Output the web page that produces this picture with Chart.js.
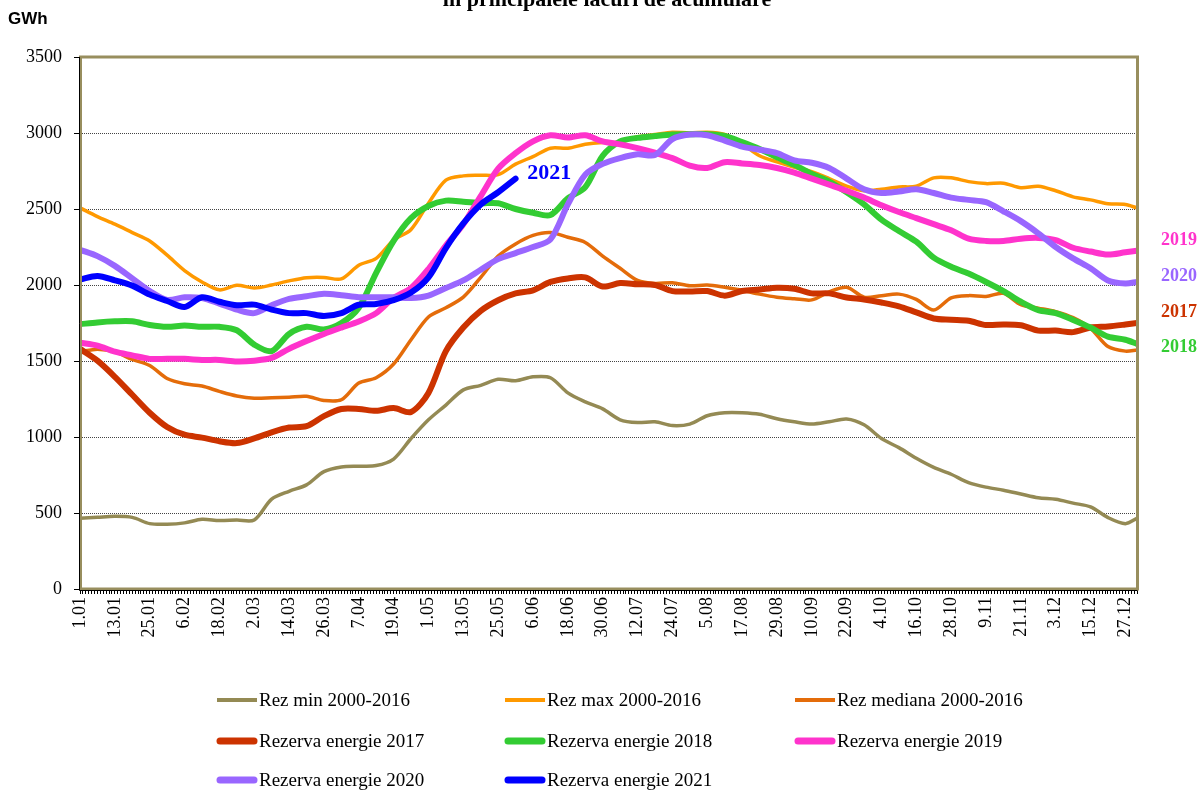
<!DOCTYPE html>
<html>
<head>
<meta charset="utf-8">
<script src="https://cdn.jsdelivr.net/npm/chart.js@4.4.0/dist/chart.umd.min.js"></script>
<style>
  html, body { margin: 0; padding: 0; background: #fff; }
  canvas { display: block; }
</style>
</head>
<body>
<canvas id="chart" width="1202" height="790"></canvas>
<script>
// Sample days (day of year, 0 = 1 January), values read every 6 days
const days = [0, 6, 12, 18, 24, 30, 36, 42, 48, 54, 60, 66, 72, 78, 84, 90, 96, 102, 108, 114,
  120, 126, 132, 138, 144, 150, 156, 162, 168, 174, 180, 186, 192, 198, 204, 210, 216, 222, 228, 234,
  240, 246, 252, 258, 264, 270, 276, 282, 288, 294, 300, 306, 312, 318, 324, 330, 336, 342, 348, 354,
  360, 364];

// Labels under the x axis, one every 12 days
const xTickLabels = ['1.01', '13.01', '25.01', '6.02', '18.02', '2.03', '14.03', '26.03', '7.04', '19.04',
  '1.05', '13.05', '25.05', '6.06', '18.06', '30.06', '12.07', '24.07', '5.08', '17.08', '29.08',
  '10.09', '22.09', '4.10', '16.10', '28.10', '9.11', '21.11', '3.12', '15.12', '27.12'];

const yTicks = [0, 500, 1000, 1500, 2000, 2500, 3000, 3500];

// Series values (GWh)
const rezMin = [466, 472, 478, 471, 430, 426, 435, 459, 450, 454, 454, 591, 643, 685, 772, 803, 808, 812, 855, 990,
  1113, 1210, 1310, 1340, 1380, 1370, 1396, 1390, 1290, 1231, 1185, 1113, 1095, 1100, 1075, 1085, 1140, 1160, 1160, 1150,
  1120, 1100, 1085, 1100, 1118, 1080, 990, 930, 860, 800, 755, 700, 670, 650, 625, 600, 590, 565, 540, 470,
  430, 465];
const rezMax = [2507, 2450, 2400, 2345, 2290, 2196, 2095, 2020, 1968, 1998, 1980, 2000, 2027, 2048, 2050, 2040, 2130, 2175, 2295, 2365,
  2538, 2690, 2718, 2722, 2726, 2795, 2845, 2900, 2900, 2926, 2938, 2940, 2975, 2990, 3005, 3000, 3005, 2990, 2930, 2850,
  2810, 2775, 2745, 2700, 2650, 2620, 2630, 2645, 2650, 2705, 2705, 2680, 2667, 2670, 2640, 2650, 2620, 2580, 2560, 2535,
  2530, 2507];
const rezMediana = [1561, 1578, 1560, 1510, 1470, 1385, 1350, 1335, 1300, 1270, 1255, 1258, 1262, 1268, 1240, 1245, 1355, 1390, 1480, 1640,
  1790, 1850, 1920, 2050, 2190, 2270, 2326, 2345, 2314, 2280, 2190, 2110, 2030, 2010, 2015, 1995, 2000, 1985, 1965, 1940,
  1920, 1910, 1902, 1955, 1985, 1920, 1930, 1940, 1905, 1835, 1915, 1930, 1925, 1945, 1870, 1848, 1825, 1785, 1715, 1595,
  1565, 1573];
const rez2017 = [1580, 1502, 1396, 1278, 1160, 1066, 1015, 996, 972, 960, 991, 1031, 1062, 1071, 1137, 1184, 1184, 1172, 1190, 1165,
  1290, 1565, 1720, 1830, 1900, 1945, 1965, 2020, 2043, 2050, 1990, 2013, 2005, 2000, 1960, 1958, 1960, 1930, 1960, 1970,
  1982, 1975, 1945, 1945, 1918, 1905, 1885, 1860, 1820, 1780, 1772, 1765, 1737, 1740, 1735, 1700, 1700, 1690, 1720, 1727,
  1740, 1750];
const rez2018 = [1742, 1754, 1761, 1761, 1737, 1725, 1733, 1725, 1725, 1702, 1608, 1565, 1678, 1725, 1707, 1749, 1850, 2080, 2290, 2440,
  2520, 2555, 2548, 2538, 2538, 2500, 2475, 2460, 2570, 2644, 2850, 2945, 2968, 2980, 2990, 2992, 2992, 2980, 2940, 2895,
  2840, 2790, 2730, 2680, 2610, 2530, 2430, 2355, 2285, 2180, 2120, 2075, 2020, 1960, 1890, 1835, 1815, 1770, 1720, 1660,
  1640, 1613];
const rez2019 = [1620, 1601, 1561, 1537, 1514, 1514, 1514, 1507, 1507, 1497, 1502, 1520, 1580, 1631, 1678, 1720, 1760, 1815, 1915, 1980,
  2105, 2260, 2400, 2585, 2765, 2867, 2945, 2985, 2970, 2985, 2945, 2925, 2900, 2870, 2835, 2785, 2770, 2808, 2800, 2790,
  2770, 2740, 2700, 2660, 2620, 2575, 2525, 2480, 2440, 2400, 2360, 2305, 2290, 2290, 2305, 2310, 2295, 2245, 2220, 2200,
  2215, 2225];
const rez2020 = [2232, 2190, 2126, 2044, 1961, 1902, 1919, 1914, 1878, 1838, 1815, 1867, 1909, 1926, 1942, 1933, 1920, 1919, 1919, 1914,
  1930, 1980, 2030, 2100, 2170, 2210, 2250, 2300, 2530, 2726, 2797, 2835, 2860, 2855, 2960, 2990, 2985, 2950, 2910, 2890,
  2868, 2820, 2804, 2770, 2700, 2630, 2605, 2615, 2630, 2605, 2575, 2560, 2545, 2485, 2420, 2340, 2250, 2175, 2110, 2030,
  2010, 2020];
const rez2021 = [2036, 2060, 2031, 1996, 1937, 1895, 1855, 1919, 1890, 1867, 1871, 1838, 1815, 1815, 1796, 1815, 1870, 1875, 1900, 1950,
  2050, 2243, 2405, 2530, 2610, 2700];

const seriesLabels = ['Rez min 2000-2016', 'Rez max 2000-2016', 'Rez mediana 2000-2016',
  'Rezerva energie 2017', 'Rezerva energie 2018', 'Rezerva energie 2019',
  'Rezerva energie 2020', 'Rezerva energie 2021'];
const seriesValues = [rezMin, rezMax, rezMediana, rez2017, rez2018, rez2019, rez2020, rez2021];
const seriesColors = ['#948a54', '#ff9900', '#e46c0a', '#cc3300', '#33cc33', '#ff33cc', '#9966ff', '#0000ff'];
const seriesWidths = [3.5, 3.5, 3.5, 6, 6, 6, 6, 6];

// Year labels at the right of the plot, and the 2021 label
const endLabels = ['2019', '2020', '2017', '2018'];
const endLabelValues = [2296, 2059, 1822, 1592];
const endLabelColors = ['#ff33cc', '#9966ff', '#cc3300', '#33cc33'];
const label2021 = { text: '2021', day: 154, value: 2737 };

const SERIF = '"Liberation Serif", "Times New Roman", serif';

const datasets = seriesValues.map((vals, i) => ({
    label: seriesLabels[i],
    data: vals.map((v, k) => ({ x: days[k], y: v })),
    borderColor: seriesColors[i],
    backgroundColor: seriesColors[i],
    borderWidth: seriesWidths[i],
    pointRadius: 0,
    tension: 0.3,
    borderCapStyle: 'round',
    borderJoinStyle: 'round',
    fill: false,
    order: seriesLabels.length - i   // later series drawn on top
}));

const decorPlugin = {
    id: 'decor',
    beforeDraw(chart) {
        const ctx = chart.ctx;
        ctx.save();
        ctx.fillStyle = '#fff';
        ctx.fillRect(0, 0, chart.width, chart.height);
        ctx.restore();
    },
    afterDatasetsDraw(chart) {
        const { ctx, chartArea: a } = chart;
        ctx.save();
        // olive plot frame
        ctx.strokeStyle = '#988e5e';
        ctx.lineWidth = 3;
        ctx.strokeRect(a.left + 0.5, a.top, a.right - a.left, a.bottom - a.top);
        // black axis lines
        ctx.strokeStyle = '#000';
        ctx.lineWidth = 1;
        ctx.beginPath();
        ctx.moveTo(a.left - 0.5, a.top);
        ctx.lineTo(a.left - 0.5, a.bottom + 1.5);
        ctx.lineTo(a.right, a.bottom + 1.5);
        ctx.stroke();
        ctx.restore();
    },
    afterDraw(chart) {
        const { ctx, scales: { x, y } } = chart;
        ctx.save();

        // title (cut at the top edge)
        ctx.fillStyle = '#000';
        ctx.font = 'bold 22px ' + SERIF;
        ctx.textAlign = 'center';
        ctx.textBaseline = 'alphabetic';
        ctx.fillText('în principalele lacuri de acumulare', 607, 6);

        // unit
        ctx.font = 'bold 17px "Liberation Sans", Arial, sans-serif';
        ctx.textAlign = 'left';
        ctx.textBaseline = 'middle';
        ctx.fillText('GWh', 8, 19);

        // year labels on the right
        ctx.font = 'bold 18px ' + SERIF;
        endLabels.forEach((t, i) => {
            ctx.fillStyle = endLabelColors[i];
            ctx.fillText(t, 1161, y.getPixelForValue(endLabelValues[i]));
        });

        // 2021 label
        ctx.font = 'bold 22px ' + SERIF;
        ctx.fillStyle = '#0000ff';
        ctx.fillText(label2021.text, x.getPixelForValue(label2021.day), y.getPixelForValue(label2021.value));

        // legend, 3 columns
        const colX = [217, 505, 795];
        const rowY = [700, 741, 780];
        seriesLabels.forEach((lab, i) => {
            const lx = colX[i % 3];
            const ly = rowY[Math.floor(i / 3)];
            const thin = i < 3;
            ctx.strokeStyle = seriesColors[i];
            ctx.lineWidth = thin ? 4 : 7;
            ctx.lineCap = thin ? 'butt' : 'round';
            ctx.beginPath();
            ctx.moveTo(lx + (thin ? 0 : 3), ly);
            ctx.lineTo(lx + (thin ? 40 : 37), ly);
            ctx.stroke();

            ctx.fillStyle = '#000';
            ctx.font = '19px ' + SERIF;
            ctx.textAlign = 'left';
            ctx.textBaseline = 'middle';
            ctx.fillText(lab, lx + 42, ly + 1);
        });
        ctx.restore();
    }
};

new Chart(document.getElementById('chart'), {
    type: 'line',
    data: { datasets: datasets },
    options: {
        responsive: false,
        animation: false,
        devicePixelRatio: 1,
        layout: { padding: { left: 0, top: 57, right: 65, bottom: 141 } },
        scales: {
            x: {
                type: 'linear',
                min: 0,
                max: 364,
                afterFit: (s) => { s.height = 60; },
                ticks: {
                    stepSize: 1,
                    autoSkip: false,
                    minRotation: 90,
                    maxRotation: 90,
                    padding: 3,
                    color: '#000',
                    font: { family: SERIF, size: 18 },
                    callback: (v) => (v % 12 === 0 ? xTickLabels[v / 12] : '')
                },
                grid: {
                    drawOnChartArea: false,
                    drawTicks: true,
                    tickLength: 5,
                    color: '#000',
                    lineWidth: 1
                },
                border: { display: false }
            },
            y: {
                min: 0,
                max: 3500,
                afterFit: (s) => { s.width = 80; },
                afterBuildTicks: (s) => { s.ticks = yTicks.map(v => ({ value: v })); },
                ticks: {
                    padding: 12,
                    color: '#000',
                    font: { family: SERIF, size: 18 },
                    callback: (v) => String(v)
                },
                grid: {
                    color: '#444',
                    lineWidth: 1,
                    tickLength: 6,
                    tickColor: '#000'
                },
                border: { display: false, dash: [1, 1] }
            }
        },
        plugins: {
            legend: { display: false },
            tooltip: { enabled: false },
            title: { display: false }
        }
    },
    plugins: [decorPlugin]
});
</script>
</body>
</html>
